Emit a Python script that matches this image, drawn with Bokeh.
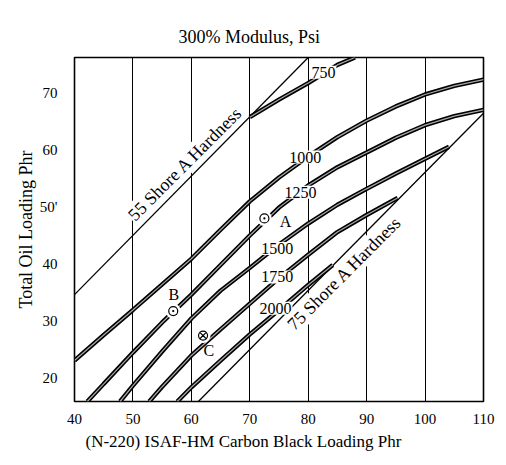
from bokeh.plotting import figure
from bokeh.models import Range1d, Label, FixedTicker, Title
from bokeh.embed import file_html
from bokeh.resources import INLINE

# ---- axis ticks -------------------------------------------------------
x_ticks = [40, 50, 60, 70, 80, 90, 100, 110]
y_ticks = [20, 30, 40, 50, 60, 70]
grid_x = [50, 60, 70, 80, 90, 100]

# ---- 300% modulus contours (psi) -------------------------------------
mod_750_x = [70, 75, 80, 85, 88]
mod_750_y = [65.8, 68.9, 71.8, 75.0, 76.3]

mod_1000_x = [40, 45, 50, 55, 60, 65, 70, 75, 80, 85, 90, 95, 100, 105, 110]
mod_1000_y = [23.0, 27.5, 31.9, 36.4, 40.9, 46.0, 51.0, 55.2, 58.9, 62.3, 65.2, 67.7, 69.8, 71.3, 72.4]

mod_1250_x = [42.2, 45, 50, 55, 60, 65, 70, 75, 80, 85, 90, 95, 100, 105, 110]
mod_1250_y = [15.8, 18.9, 24.4, 29.7, 34.6, 39.8, 45.0, 49.9, 53.8, 57.0, 59.6, 62.2, 64.4, 66.0, 67.1]

mod_1500_x = [47.8, 50, 55, 60, 65, 70, 75, 80, 85, 90, 95, 100, 104.1]
mod_1500_y = [15.8, 18.6, 24.6, 30.4, 35.3, 39.3, 43.4, 47.1, 50.4, 53.2, 55.9, 58.5, 60.6]

mod_1750_x = [52.8, 55, 60, 65, 70, 75, 80, 85, 90, 95.3]
mod_1750_y = [15.8, 18.4, 23.9, 28.5, 33.0, 37.5, 41.6, 45.6, 48.6, 51.6]

mod_2000_x = [57.6, 60, 65, 70, 75, 80, 84.2]
mod_2000_y = [15.8, 18.3, 23.0, 27.6, 31.9, 36.3, 39.8]

# ---- Shore A hardness limits -----------------------------------------
shore55_x = [40, 80]
shore55_y = [34.6, 76.3]
shore75_x = [61.2, 110]
shore75_y = [15.8, 66.5]

# ---- compound points --------------------------------------------------
point_names = ["A", "B", "C"]
point_x = [72.5, 56.9, 62.0]
point_y = [48.0, 31.7, 27.4]
point_marker = ["circle_dot", "circle_dot", "circle_x"]

FONT = "Liberation Serif"

p = figure(width=506, height=465,
           x_range=Range1d(40, 110), y_range=Range1d(15.8, 76.3),
           output_backend="svg", toolbar_location=None,
           min_border_left=74, min_border_right=23,
           min_border_top=57, min_border_bottom=64)

p.background_fill_color = "white"
p.border_fill_color = "white"
p.outline_line_color = "black"
p.outline_line_width = 1.6

# axes: labels only, the frame acts as the axis line
for ax in (p.xaxis[0], p.yaxis[0]):
    ax.axis_line_color = None
    ax.major_tick_line_color = None
    ax.minor_tick_line_color = None
    ax.major_label_text_font = FONT
    ax.major_label_text_font_size = "15px"
    ax.major_label_text_color = "black"
p.xaxis.ticker = FixedTicker(ticks=x_ticks)
p.yaxis.ticker = FixedTicker(ticks=y_ticks)
p.xaxis.major_label_standoff = 6
p.yaxis.major_label_standoff = 11
p.yaxis.major_label_overrides = {50: "50'"}

p.yaxis.axis_label = "Total Oil Loading Phr"
p.yaxis.axis_label_text_font = FONT
p.yaxis.axis_label_text_font_size = "18px"
p.yaxis.axis_label_text_font_style = "normal"
p.yaxis.axis_label_text_color = "black"
p.yaxis.axis_label_standoff = 1

p.xgrid.ticker = FixedTicker(ticks=grid_x)
p.xgrid.grid_line_color = "black"
p.xgrid.grid_line_width = 1
p.ygrid.grid_line_color = None

# title above the frame and caption below the x axis
p.add_layout(Title(text="300% Modulus, Psi", text_font=FONT, text_font_size="18px",
                   text_font_style="normal", text_color="black",
                   align="left", offset=104, standoff=21), "above")
p.add_layout(Title(text="(N-220) ISAF-HM Carbon Black Loading Phr", text_font=FONT,
                   text_font_size="17px", text_font_style="normal", text_color="black",
                   align="left", offset=11, standoff=6), "below")

# hardness boundaries (thin)
p.line(shore55_x, shore55_y, line_color="black", line_width=1.3)
p.line(shore75_x, shore75_y, line_color="black", line_width=1.3)

# modulus contours drawn as heavy hollow strokes
for xs, ys in [(mod_750_x, mod_750_y), (mod_1000_x, mod_1000_y),
               (mod_1250_x, mod_1250_y), (mod_1500_x, mod_1500_y),
               (mod_1750_x, mod_1750_y), (mod_2000_x, mod_2000_y)]:
    p.line(xs, ys, line_color="black", line_width=4.4)
    p.line(xs, ys, line_color="#a8a8a8", line_width=1.2)

# compound points with a clear ring around each marker
p.scatter(point_x, point_y, size=15, fill_color="white", line_color=None)
for px_, py_, mk in zip(point_x, point_y, point_marker):
    p.scatter([px_], [py_], marker=mk, size=9, fill_color="white",
              line_color="black", line_width=1.2)


def add_text(x, y, text, size, angle=0, align="center", baseline="middle", bg=True):
    lab = Label(x=x, y=y, text=text, text_font=FONT, text_font_size=size,
                text_color="black", text_align=align, text_baseline=baseline,
                angle=angle, angle_units="deg")
    if bg:
        lab.background_fill_color = "white"
        lab.padding = 1
    p.add_layout(lab)


# contour values
add_text(82.6, 73.7, "750", "16px")
add_text(79.5, 58.8, "1000", "16px")
add_text(78.7, 52.6, "1250", "16px")
add_text(74.7, 42.7, "1500", "16px")
add_text(74.7, 37.7, "1750", "16px")
add_text(74.4, 32.2, "2000", "16px")

# point letters
add_text(76.1, 47.5, point_names[0], "16px", bg=False)
add_text(57.0, 34.7, point_names[1], "16px", bg=False)
add_text(63.0, 24.8, point_names[2], "16px", bg=False)

# hardness captions along the boundary lines
add_text(60.3, 56.3, "55 Shore A Hardness", "18px", angle=45, baseline="bottom")
add_text(84.9, 39.8, "75 Shore A Hardness", "18px", angle=45, baseline="top")

open("out.html", "w").write(file_html(p, INLINE))
